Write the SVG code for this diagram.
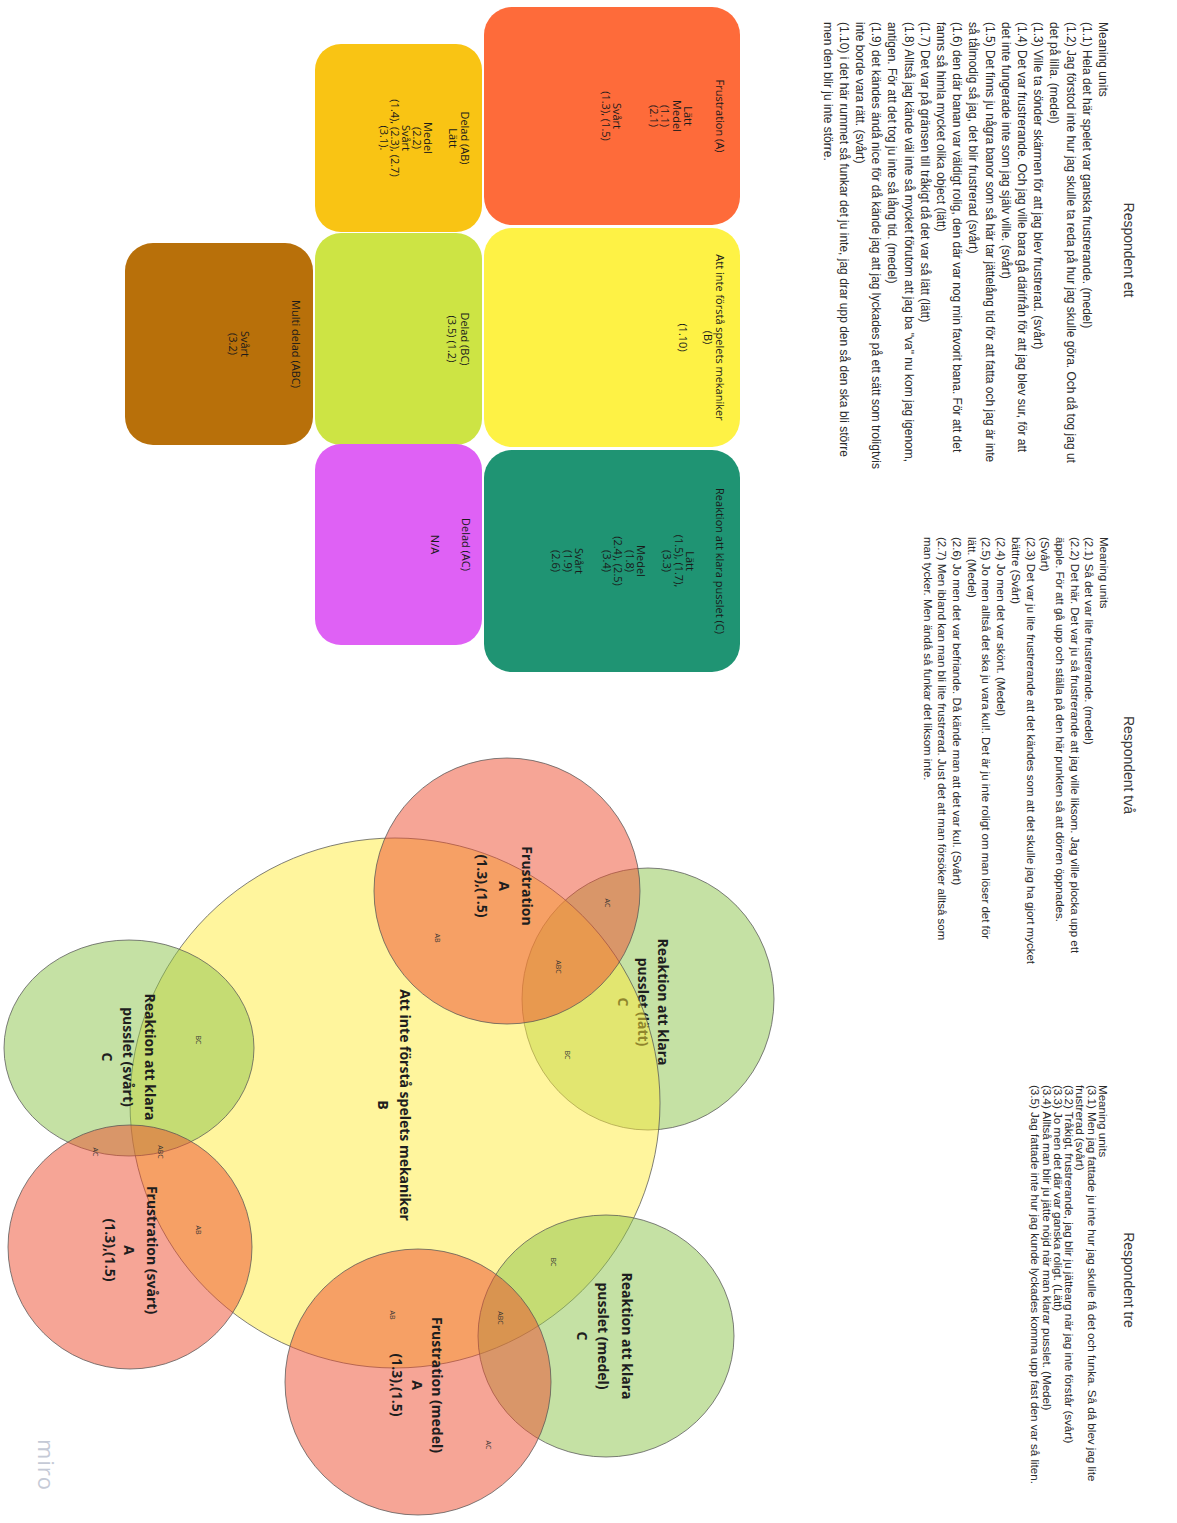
<svg xmlns="http://www.w3.org/2000/svg" width="1177" height="1523" viewBox="0 0 1177 1523">
<style>
.mu{font-family:"Liberation Sans",Arial,sans-serif;font-size:12px;fill:#2a2a2a}
.mu2{font-family:"Liberation Sans",Arial,sans-serif;font-size:11.5px;fill:#2a2a2a}
.mu3{font-family:"Liberation Sans",Arial,sans-serif;font-size:11.6px;fill:#2a2a2a}
.ttl{font-family:"Liberation Sans",Arial,sans-serif;font-size:14px;fill:#3a3a3a;text-anchor:middle}
.st{font-family:"Open Sans","Liberation Sans",sans-serif;font-size:11px;fill:#1a1a1a;text-anchor:middle}
.vl{font-family:"Open Sans","Liberation Sans",sans-serif;font-weight:700;font-size:14px;fill:#1e1e1e;text-anchor:middle}
.sm{font-family:"Open Sans","Liberation Sans",sans-serif;font-size:7px;fill:#333;text-anchor:middle}
.ca{fill:#ee4b2e;fill-opacity:.5;stroke:#555;stroke-opacity:.75;stroke-width:1}
.cb{fill:#ffeb3b;fill-opacity:.5;stroke:#555;stroke-opacity:.75;stroke-width:1}
.cc{fill:#8bc34a;fill-opacity:.5;stroke:#555;stroke-opacity:.75;stroke-width:1}
.wm{font-family:"Open Sans","Liberation Sans",sans-serif;font-size:22px;fill:#c5cad6;text-anchor:middle;letter-spacing:1px}
</style>
<rect width="1177" height="1523" fill="#ffffff"/>
<g transform="matrix(0 1 -1 0 1177 0)">

<g id="title-ett"><text class="ttl" x="250" y="53">Respondent ett</text></g>
<g id="title-tva"><text class="ttl" x="765" y="53">Respondent två</text></g>
<g id="title-tre"><text class="ttl" x="1280" y="53">Respondent tre</text></g>

<g id="units-ett">
<text class="mu" x="22" y="78">
<tspan x="22">Meaning units</tspan>
<tspan x="22" dy="16.2">(1.1) Hela det här spelet var ganska frustrerande. (medel)</tspan>
<tspan x="22" dy="16.2">(1.2) Jag förstod inte hur jag skulle ta reda på hur jag skulle göra. Och då tog jag ut</tspan>
<tspan x="22" dy="16.2">det på lilla. (medel)</tspan>
<tspan x="22" dy="16.2">(1.3) Ville ta sönder skärmen för att jag blev frustrerad. (svårt)</tspan>
<tspan x="22" dy="16.2">(1.4) Det var frustrerande. Och jag ville bara gå därifrån för att jag blev sur, för att</tspan>
<tspan x="22" dy="16.2">det inte fungerade inte som jag själv ville. (svårt)</tspan>
<tspan x="22" dy="16.2">(1.5) Det finns ju några banor som så här tar jättelång tid för att fatta och jag är inte</tspan>
<tspan x="22" dy="16.2">så tålmodig så jag, det blir frustrerad (svårt)</tspan>
<tspan x="22" dy="16.2">(1.6) den där banan var väldigt rolig, den där var nog min favorit bana. För att det</tspan>
<tspan x="22" dy="16.2">fanns så himla mycket olika object (lätt)</tspan>
<tspan x="22" dy="16.2">(1.7) Det var på gränsen till tråkigt då det var så lätt (lätt)</tspan>
<tspan x="22" dy="16.2">(1.8) Alltså jag kände väl inte så mycket förutom att jag ba "va" nu kom jag igenom,</tspan>
<tspan x="22" dy="16.2">antigen. För att det tog ju inte så lång tid. (medel)</tspan>
<tspan x="22" dy="16.2">(1.9) det kändes ändå nice för då kände jag att jag lyckades på ett sätt som troligtvis</tspan>
<tspan x="22" dy="16.2">inte borde vara rätt. (svårt)</tspan>
<tspan x="22" dy="16.2">(1.10) i det här rummet så funkar det ju inte, jag drar upp den så den ska bli större</tspan>
<tspan x="22" dy="16.2">men den blir ju inte större.</tspan>
</text>
</g>

<g id="units-tva">
<text class="mu2" x="537" y="77">
<tspan x="537">Meaning units</tspan>
<tspan x="537" dy="14.7">(2.1) Så det var lite frustrerande. (medel)</tspan>
<tspan x="537" dy="14.7">(2.2) Det här. Det var ju så frustrerande att jag ville liksom. Jag ville plocka upp ett</tspan>
<tspan x="537" dy="14.7">äpple. För att gå upp och ställa på den här punkten så att dörren öppnades.</tspan>
<tspan x="537" dy="14.7">(Svårt)</tspan>
<tspan x="537" dy="14.7">(2.3) Det var ju lite frustrerande att det kändes som att det skulle jag ha gjort mycket</tspan>
<tspan x="537" dy="14.7">bättre (Svårt)</tspan>
<tspan x="537" dy="14.7">(2.4) Jo men det var skönt. (Medel)</tspan>
<tspan x="537" dy="14.7">(2.5) Jo men alltså det ska ju vara kul!. Det är ju inte roligt om man löser det för</tspan>
<tspan x="537" dy="14.7">lätt. (Medel)</tspan>
<tspan x="537" dy="14.7">(2.6) Jo men det var befriande. Då kände man att det var kul. (Svårt)</tspan>
<tspan x="537" dy="14.7">(2.7) Men ibland kan man bli lite frustrerad. Just det att man försöker alltså som</tspan>
<tspan x="537" dy="14.7">man tycker. Men ändå så funkar det liksom inte.</tspan>
</text>
</g>

<g id="units-tre">
<text class="mu3" x="1085" y="78">
<tspan x="1085">Meaning units</tspan>
<tspan x="1085" dy="11.3">(3.1) Men jag fattade ju inte hur jag skulle få det och funka. Så då blev jag lite</tspan>
<tspan x="1085" dy="11.3">frustrerad (svårt)</tspan>
<tspan x="1085" dy="11.3">(3.2) Tråkigt, frustrerande, jag blir ju jättearg när jag inte förstår (svårt)</tspan>
<tspan x="1085" dy="11.3">(3.3) Jo men det där var ganska roligt. (Lätt)</tspan>
<tspan x="1085" dy="11.3">(3.4) Alltså man blir ju jätte nöjd när man klarar pusslet. (Medel)</tspan>
<tspan x="1085" dy="11.3">(3.5) Jag fattade inte hur jag kunde lyckades komma upp fast den var så liten.</tspan>
</text>
</g>

<g id="note-a">
<rect x="7" y="437" width="218" height="256" rx="28" fill="#fe6b3a"/>
<text class="st"><tspan x="116" y="461">Frustration (A)</tspan><tspan x="116" y="493">Lätt</tspan><tspan x="116" y="504.5">Medel</tspan><tspan x="116" y="516">(1.1)</tspan><tspan x="116" y="527.5">(2.1)</tspan><tspan x="116" y="564">Svårt</tspan><tspan x="116" y="575.5">(1.3), (1.5)</tspan></text>
</g>
<g id="note-b">
<rect x="228" y="437" width="219" height="256" rx="28" fill="#fef245"/>
<text class="st"><tspan x="337.5" y="461">Att inte förstå spelets mekaniker</tspan><tspan x="337.5" y="473">(B)</tspan><tspan x="337.5" y="498">(1.10)</tspan></text>
</g>
<g id="note-c">
<rect x="450" y="437" width="222" height="256" rx="28" fill="#1f9473"/>
<text class="st"><tspan x="561" y="461">Reaktion att klara pusslet (C)</tspan><tspan x="561" y="491">Lätt</tspan><tspan x="561" y="502.5">(1.5), (1.7),</tspan><tspan x="561" y="514">(3.3)</tspan><tspan x="561" y="540">Medel</tspan><tspan x="561" y="551.5">(1.8)</tspan><tspan x="561" y="563">(2.4), (2.5)</tspan><tspan x="561" y="574.5">(3.4)</tspan><tspan x="561" y="602">Svårt</tspan><tspan x="561" y="613.5">(1.9)</tspan><tspan x="561" y="625">(2.6)</tspan></text>
</g>
<g id="note-ab">
<rect x="44" y="695" width="188" height="167" rx="26" fill="#f9c414"/>
<text class="st"><tspan x="138" y="716">Delad (AB)</tspan><tspan x="138" y="728">Lätt</tspan><tspan x="138" y="753">Medel</tspan><tspan x="138" y="764">(2.2)</tspan><tspan x="138" y="775">Svårt</tspan><tspan x="138" y="786">(1.4), (2.3), (2.7)</tspan><tspan x="138" y="797">(3.1).</tspan></text>
</g>
<g id="note-bc">
<rect x="233" y="695" width="212" height="167" rx="26" fill="#cde444"/>
<text class="st"><tspan x="339" y="716">Delad (BC)</tspan><tspan x="339" y="729">(3.5) (1.2)</tspan></text>
</g>
<g id="note-ac">
<rect x="444" y="695" width="201" height="167" rx="26" fill="#df61f5"/>
<text class="st"><tspan x="544.5" y="715">Delad (AC)</tspan><tspan x="544.5" y="746">N/A</tspan></text>
</g>
<g id="note-abc">
<rect x="243" y="864" width="202" height="188" rx="28" fill="#b8700a"/>
<text class="st"><tspan x="344" y="885">Multi delad (ABC)</tspan><tspan x="344" y="936">Svårt</tspan><tspan x="344" y="948">(3.2)</tspan></text>
</g>

<g id="venn-c-latt">
<ellipse class="cc" cx="999" cy="529" rx="131" ry="126"/>
<text class="vl"><tspan x="1002" y="519">Reaktion att klara</tspan><tspan x="1002" y="539">pusslet (lätt)</tspan><tspan x="1002" y="559">C</tspan></text>
</g>
<g id="venn-b">
<circle class="cb" cx="1103" cy="782" r="265"/>
<text class="vl"><tspan x="1105" y="777">Att inte förstå spelets mekaniker</tspan><tspan x="1105" y="799">B</tspan></text>
</g>
<g id="venn-c-svart">
<ellipse class="cc" cx="1048" cy="1048" rx="108" ry="125"/>
<text class="vl"><tspan x="1057" y="1032">Reaktion att klara</tspan><tspan x="1057" y="1054">pusslet (svårt)</tspan><tspan x="1057" y="1075">C</tspan></text>
</g>
<g id="venn-c-medel">
<ellipse class="cc" cx="1336" cy="571" rx="121" ry="128"/>
<text class="vl"><tspan x="1336" y="555">Reaktion att klara</tspan><tspan x="1336" y="579">pusslet (medel)</tspan><tspan x="1336" y="600">C</tspan></text>
</g>
<g id="venn-a">
<circle class="ca" cx="891" cy="670" r="133"/>
<text class="vl"><tspan x="886" y="655">Frustration</tspan><tspan x="886" y="678">A</tspan><tspan x="886" y="700">(1.3),(1.5)</tspan></text>
</g>
<g id="venn-a-svart">
<circle class="ca" cx="1247" cy="1047" r="122"/>
<text class="vl"><tspan x="1250" y="1030">Frustration (svårt)</tspan><tspan x="1250" y="1053">A</tspan><tspan x="1250" y="1072">(1.3),(1.5)</tspan></text>
</g>
<g id="venn-a-medel">
<circle class="ca" cx="1382" cy="759" r="133"/>
<text class="vl"><tspan x="1385" y="745">Frustration (medel)</tspan><tspan x="1385" y="765">A</tspan><tspan x="1385" y="785">(1.3),(1.5)</tspan></text>
</g>

<g id="region-labels">
<text class="sm" x="938" y="742.5">AB</text>
<text class="sm" x="903" y="572.5">AC</text>
<text class="sm" x="967" y="621.5">ABC</text>
<text class="sm" x="1055" y="612.5">BC</text>
<text class="sm" x="1040" y="981.5">BC</text>
<text class="sm" x="1152" y="1084.5">AC</text>
<text class="sm" x="1152" y="1019.5">ABC</text>
<text class="sm" x="1230" y="981.5">AB</text>
<text class="sm" x="1262" y="626.5">BC</text>
<text class="sm" x="1318" y="679.5">ABC</text>
<text class="sm" x="1315" y="787.5">AB</text>
<text class="sm" x="1445" y="691.5">AC</text>
</g>

<g id="connectors"></g>

<g id="watermark"><text class="wm" x="1465" y="1139">miro</text></g>
</g>
</svg>
